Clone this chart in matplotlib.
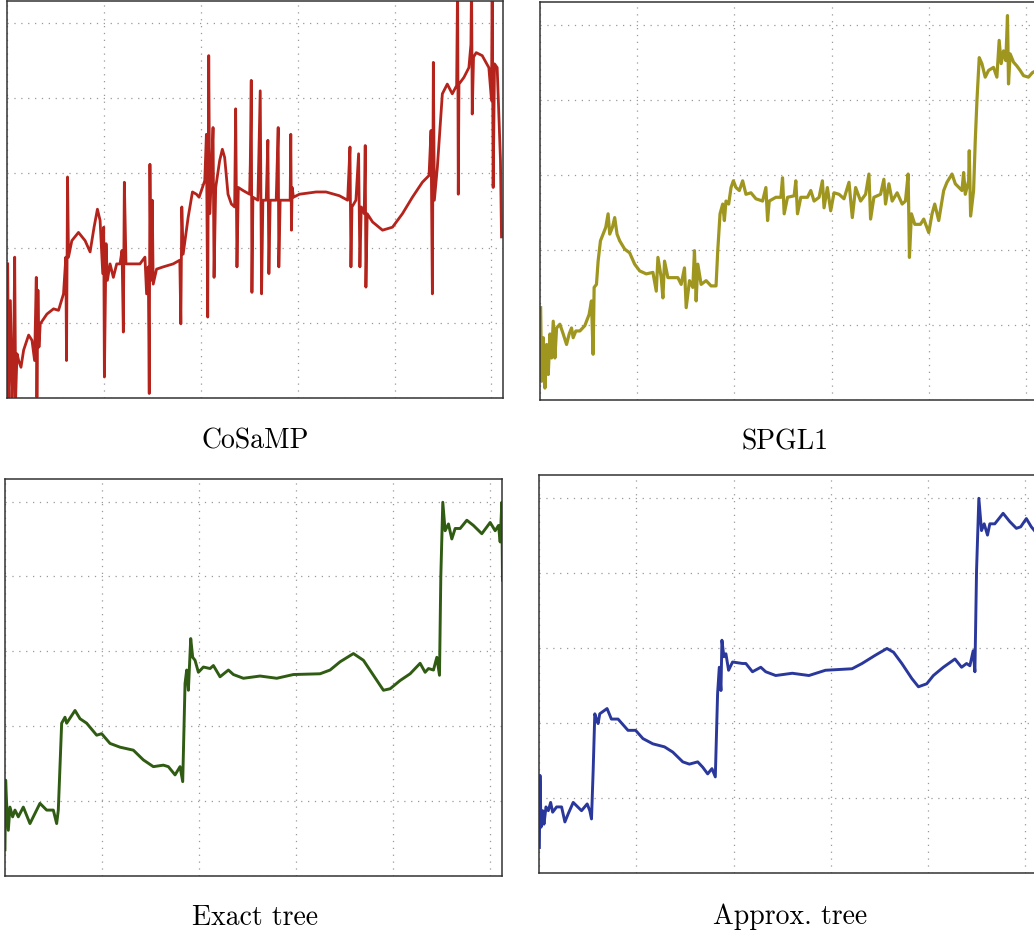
import matplotlib
matplotlib.use("Agg")
import matplotlib.pyplot as plt

plt.rcParams['font.family'] = 'serif'
plt.rcParams['font.serif'] = ['cmr10', 'DejaVu Serif']
plt.rcParams['axes.unicode_minus'] = False

# panel titles
titles = ["CoSaMP", "SPGL1", "Exact tree", "Approx. tree"]

# CoSaMP reconstruction (sample index, amplitude in grid units)
cosamp_x = [1.4, 3.4, 6.9, 10.3, 13.7, 15.8, 17.8, 20.6, 24.0, 28.8, 34.3, 44.6, 51.5, 56.9, 60.4,
            61.7, 63.8, 65.9, 68.6, 82.3, 96.0, 106.3, 116.6, 121.4, 122.8, 124.9, 126.9, 133.8,
            147.5, 161.2, 171.5, 179.7, 186.6, 192.1, 197.6, 199.6, 201.0, 204.4, 207.2, 212.7,
            219.5, 226.4, 233.2, 237.4, 240.1, 242.2, 245.6, 260.7, 274.4, 284.7, 288.1, 291.6,
            293.6, 295.0, 297.0, 299.8, 301.8, 308.7, 322.4, 343.0, 356.7, 358.8, 360.8, 363.6,
            373.9, 382.8, 391.0, 396.5, 403.4, 408.2, 411.6, 414.3, 416.4, 418.5, 421.9, 425.3,
            427.4, 430.8, 439.0, 444.5, 449.3, 456.2, 463.1, 469.9, 472.0, 474.7, 477.5, 487.1,
            500.8, 502.2, 504.2, 505.6, 507.6, 517.9, 522.7, 525.5, 528.2, 535.1, 538.5, 540.6,
            543.3, 555.7, 559.8, 561.1, 563.9, 576.2, 584.5, 585.8, 587.2, 588.6, 591.3, 603.7,
            638.0, 658.6, 686.0, 703.2, 708.0, 710.0, 712.1, 720.3, 725.8, 728.5, 731.3, 737.4,
            739.5, 740.9, 743.6, 754.6, 775.2, 795.8, 816.3, 836.9, 857.5, 871.2, 875.3, 878.1,
            880.1, 882.2, 888.4, 898.7, 908.9, 919.2, 928.2, 930.2, 931.6, 933.0, 943.3, 953.5,
            957.7, 959.0, 960.4, 963.1, 968.6, 981.0, 994.7, 1000.2, 1001.6, 1003.6, 1006.4,
            1011.9, 1018.7, 1020.8]
cosamp_y = [1.79, 0.01, 1.30, 0.01, 0.59, 1.88, 0.01, 0.59, 0.50, 0.41, 0.64, 0.84, 0.77, 0.50, 1.61,
            0.01, 1.44, 0.68, 0.99, 1.12, 1.19, 1.17, 1.39, 1.88, 0.50, 2.95, 1.88, 2.10,
            2.21, 2.10, 1.95, 2.28, 2.52, 2.37, 1.66, 2.28, 0.28, 2.06, 1.57, 1.79,
            1.61, 1.79, 1.79, 1.97, 0.88, 2.88, 1.79, 1.79, 1.79, 1.88, 1.39, 1.75,
            0.06, 3.12, 1.57, 2.64, 1.52, 1.72, 1.75, 1.79, 1.84, 0.99, 2.55, 1.92,
            2.41, 2.75, 2.72, 2.68, 2.81, 2.90, 3.52, 1.08, 4.57, 2.46, 2.95, 3.61,
            1.61, 2.81, 3.17, 3.32, 3.21, 2.72, 2.59, 2.55, 3.86, 1.75, 2.81, 2.77,
            2.72, 3.12, 4.24, 1.41, 2.68, 2.64, 4.10, 1.39, 2.64, 2.64, 3.44, 1.66,
            2.64, 2.64, 3.61, 1.75, 2.64, 2.64, 2.64, 3.52, 2.24, 2.81, 2.68, 2.72,
            2.75, 2.75, 2.70, 2.64, 3.35, 1.75, 2.55, 2.64, 3.26, 1.75, 2.55, 2.46,
            3.37, 1.48, 2.46, 2.35, 2.24, 2.28, 2.46, 2.68, 2.88, 2.97, 3.57, 1.39,
            4.48, 2.64, 3.08, 4.06, 4.19, 4.06, 4.17, 5.60, 2.72, 4.19, 4.28, 4.41,
            4.72, 5.60, 3.79, 4.55, 4.61, 4.57, 4.41, 3.97, 5.60, 2.81, 4.46,
            4.41, 3.17, 2.15]

# SPGL1 reconstruction
spgl1_x = [1.4, 3.4, 6.8, 10.2, 13.7, 17.1, 20.5, 23.9, 27.3, 30.7, 34.2, 41.0, 47.8, 54.7, 60.1,
           64.9, 68.3, 73.8, 82.0, 92.2, 101.1, 105.9, 109.3, 111.4, 116.2, 119.6, 124.4, 129.8,
           135.3, 140.1, 143.5, 149.0, 153.7, 158.5, 164.0, 174.2, 184.5, 194.7, 205.0, 218.7,
           232.3, 239.2, 242.6, 249.4, 252.8, 256.2, 263.1, 273.3, 283.6, 290.4, 297.2, 300.7,
           307.5, 314.3, 317.7, 321.2, 324.6, 331.4, 341.7, 351.9, 362.1, 365.6, 370.3, 375.8,
           379.2, 382.6, 388.1, 392.9, 397.7, 403.1, 410.0, 416.8, 423.6, 433.9, 444.1, 457.8,
           464.6, 468.1, 471.5, 485.1, 495.4, 498.8, 502.2, 509.1, 522.7, 526.1, 529.6, 536.4,
           550.1, 556.9, 563.7, 574.0, 580.8, 584.2, 591.0, 597.9, 604.7, 615.0, 625.2, 635.5,
           642.3, 649.1, 659.4, 669.6, 676.5, 679.9, 686.7, 700.4, 707.2, 710.6, 717.5, 724.3,
           734.5, 744.8, 751.6, 757.1, 759.8, 763.9, 770.8, 782.4, 789.2, 799.5, 806.3, 811.8,
           820.0, 830.2, 837.0, 847.3, 854.1, 867.8, 871.2, 874.6, 881.5, 882.8, 885.6, 891.7,
           895.1, 898.6, 903.3, 908.8, 915.6, 922.5, 932.7, 939.6, 944.3, 948.4, 953.2, 958.0,
           961.4, 963.5, 966.9, 973.8, 980.6, 987.4, 994.3, 1004.5, 1012.7, 1024.0]
spgl1_y = [1.23, 0.25, 0.83, 0.16, 0.74, 0.34, 0.88, 0.56, 1.05, 0.56, 0.96, 1.01, 0.88, 0.74, 0.88,
           0.96, 0.83, 0.92, 0.92, 0.99, 1.14, 1.32, 0.61, 1.50, 1.54, 1.85, 2.12, 2.21,
           2.30, 2.48, 2.21, 2.30, 2.43, 2.21, 2.12, 2.01, 1.96, 1.81, 1.72, 1.68,
           1.70, 1.45, 1.90, 1.63, 1.36, 1.85, 1.63, 1.63, 1.63, 1.54, 1.76, 1.23,
           1.59, 1.50, 1.99, 1.32, 1.81, 1.54, 1.59, 1.52, 1.52, 1.99, 2.48, 2.61,
           2.39, 2.65, 2.61, 2.83, 2.92, 2.83, 2.79, 2.92, 2.74, 2.76, 2.68, 2.65,
           2.83, 2.39, 2.65, 2.70, 2.70, 2.96, 2.48, 2.70, 2.72, 2.92, 2.48, 2.70,
           2.70, 2.79, 2.65, 2.70, 2.92, 2.56, 2.83, 2.52, 2.76, 2.74, 2.68, 2.90,
           2.43, 2.83, 2.65, 2.74, 3.01, 2.41, 2.70, 2.74, 2.94, 2.61, 2.88, 2.65,
           2.76, 2.61, 2.65, 3.01, 1.90, 2.48, 2.34, 2.34, 2.41, 2.23, 2.48, 2.61,
           2.39, 2.79, 2.90, 3.01, 2.88, 2.79, 3.03, 2.74, 2.92, 3.32, 2.45, 2.79,
           3.45, 3.99, 4.56, 4.48, 4.30, 4.39, 4.43, 4.30, 4.79, 4.48, 4.65, 4.52,
           5.12, 4.21, 4.61, 4.50, 4.45, 4.39, 4.32, 4.30, 4.36, 4.40]

# exact tree-sparse reconstruction
exact_x = [0.0, 1.4, 3.4, 6.9, 10.3, 15.8, 20.6, 27.5, 37.8, 51.5, 72.1, 85.9, 99.6, 106.5, 109.9,
           116.8, 123.7, 127.1, 144.3, 154.6, 168.3, 188.9, 199.2, 216.4, 237.0, 264.5, 285.1,
           305.7, 326.3, 336.6, 350.4, 360.7, 366.2, 371.0, 374.4, 377.9, 382.7, 386.8, 391.6,
           398.5, 408.8, 422.5, 429.4, 443.1, 460.3, 470.6, 491.2, 525.6, 559.9, 594.3, 649.2,
           669.8, 690.4, 717.9, 738.5, 759.1, 779.7, 793.5, 814.1, 834.7, 855.3, 865.6, 872.5,
           882.8, 889.7, 895.2, 897.9, 902.0, 906.8, 913.7, 920.6, 927.5, 937.8, 951.5, 965.2,
           982.4, 999.6, 1009.9, 1016.8, 1020.2, 1023.6, 1025.0]
exact_y = [0.35, 1.28, 0.97, 0.61, 0.92, 0.79, 0.88, 0.79, 0.92, 0.70, 0.97, 0.88, 0.88, 0.70, 0.88,
           2.04, 2.12, 2.04, 2.21, 2.10, 2.04, 1.88, 1.90, 1.77, 1.72, 1.68, 1.55,
           1.46, 1.48, 1.46, 1.35, 1.46, 1.26, 2.57, 2.75, 2.48, 3.17, 2.92, 2.88,
           2.72, 2.79, 2.77, 2.81, 2.66, 2.75, 2.69, 2.64, 2.67, 2.64, 2.69, 2.70,
           2.75, 2.86, 2.97, 2.88, 2.68, 2.48, 2.50, 2.61, 2.70, 2.84, 2.72, 2.77,
           2.75, 2.92, 2.68, 3.99, 4.99, 4.61, 4.70, 4.50, 4.64, 4.64, 4.75, 4.68,
           4.57, 4.72, 4.61, 4.68, 4.46, 4.99, 3.95]

# approximate tree-sparse reconstruction
approx_x = [0.7, 2.0, 4.1, 7.5, 10.2, 14.3, 19.1, 23.9, 28.0, 36.2, 46.4, 53.2, 60.1, 70.3, 87.4,
            99.0, 104.4, 107.9, 111.3, 114.7, 118.1, 121.5, 124.9, 139.9, 148.8, 162.5, 182.9,
            198.6, 213.7, 234.1, 258.0, 275.1, 295.6, 309.2, 326.3, 336.5, 346.8, 355.6, 362.5,
            367.2, 370.7, 374.1, 376.1, 380.2, 384.3, 389.8, 398.0, 418.4, 425.3, 438.9, 456.0,
            466.2, 486.7, 520.8, 555.0, 589.1, 643.7, 664.2, 691.5, 715.4, 729.0, 746.1, 766.6,
            780.2, 797.3, 810.9, 831.4, 855.3, 868.9, 879.2, 886.0, 892.8, 896.3, 899.7, 904.4,
            909.9, 915.4, 922.2, 927.0, 937.2, 954.3, 968.0, 981.6, 990.5, 1002.1, 1012.3, 1020.0]
approx_y = [0.34, 1.30, 0.61, 0.83, 0.65, 0.88, 0.83, 0.94, 0.81, 0.88, 0.88, 0.68, 0.79, 0.94, 0.83,
            0.92, 0.83, 0.72, 1.36, 2.12, 2.05, 1.99, 2.12, 2.19, 2.05, 2.05, 1.90,
            1.90, 1.79, 1.72, 1.68, 1.61, 1.48, 1.45, 1.48, 1.41, 1.32, 1.39, 1.28,
            2.39, 2.74, 2.43, 3.10, 2.88, 2.92, 2.70, 2.81, 2.79, 2.79, 2.68, 2.74,
            2.68, 2.63, 2.66, 2.63, 2.70, 2.72, 2.79, 2.90, 2.99, 2.94, 2.79, 2.59,
            2.48, 2.52, 2.63, 2.74, 2.85, 2.74, 2.79, 2.76, 2.96, 2.68, 4.03, 4.99,
            4.56, 4.65, 4.50, 4.65, 4.65, 4.79, 4.68, 4.59, 4.61, 4.72, 4.61, 4.55]

xs = [cosamp_x, spgl1_x, exact_x, approx_x]
ys = [cosamp_y, spgl1_y, exact_y, approx_y]
colors = ['#b4241c', '#9f9620', '#2f5c12', '#2a389c']
widths = [2.0, 2.3, 2.1, 2.1]

# axes rectangles in figure fractions, and title centres
rects = [[0.0068, 0.5748, 0.4797, 0.4242],
         [0.5222, 0.5726, 0.4816, 0.4252],
         [0.0048, 0.0641, 0.4807, 0.4241],
         [0.5213, 0.0673, 0.4816, 0.4252]]
title_pos = [(0.247, 0.529), (0.759, 0.527), (0.247, 0.019), (0.764, 0.021)]

fig = plt.figure(figsize=(10.34, 9.36), dpi=100)
for i in range(4):
    ax = fig.add_axes(rects[i])
    ax.plot(xs[i], ys[i], color=colors[i], lw=widths[i], solid_joinstyle='round')
    ax.set_xlim(0, 1024)
    ax.set_ylim(0, 5.3)
    ax.set_xticks([0, 200, 400, 600, 800, 1000])
    ax.set_yticks([0, 1, 2, 3, 4, 5])
    ax.tick_params(length=0, labelbottom=False, labelleft=False)
    ax.grid(True, color='#999999', lw=0.9, linestyle=(0, (1, 4.5)))
    for sp in ax.spines.values():
        sp.set_color('#333333')
        sp.set_linewidth(1.1)
    fig.text(title_pos[i][0], title_pos[i][1], titles[i], ha='center', va='center', fontsize=20)

fig.savefig('out.png', dpi=100)
